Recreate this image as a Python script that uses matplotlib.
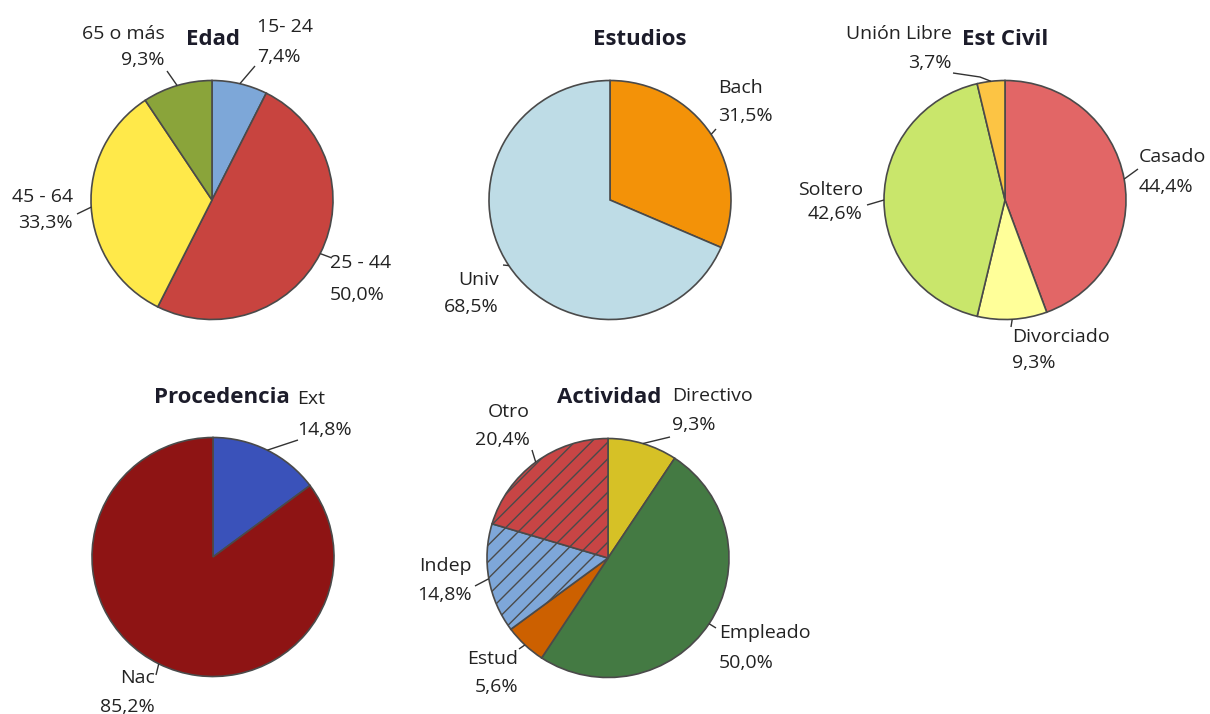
import matplotlib
matplotlib.use("Agg")
import matplotlib.pyplot as plt
import numpy as np

# ---- data -------------------------------------------------------------
edad_labels = ["15- 24", "25 - 44", "45 - 64", "65 o más"]
edad_pct = [7.4, 50.0, 33.3, 9.3]
edad_colors = ["#7DA7D8", "#C8443F", "#FFE94A", "#8AA43A"]

estudios_labels = ["Bach", "Univ"]
estudios_pct = [31.5, 68.5]
estudios_colors = ["#F39208", "#BEDCE6"]

civil_labels = ["Casado", "Divorciado", "Soltero", "Unión Libre"]
civil_pct = [44.4, 9.3, 42.6, 3.7]
civil_colors = ["#E26666", "#FFFF99", "#C9E66B", "#FCC444"]

proc_labels = ["Ext", "Nac"]
proc_pct = [14.8, 85.2]
proc_colors = ["#3A52BA", "#8E1414"]

activ_labels = ["Directivo", "Empleado", "Estud", "Indep", "Otro"]
activ_pct = [9.3, 50.0, 5.6, 14.8, 20.4]
activ_colors = ["#D6C126", "#447A43", "#CC6000", "#7EA7D9", "#C84545"]
activ_hatches = [None, None, None, "//", "//"]

# ---- canvas -----------------------------------------------------------
W, H, DPI = 1210, 714, 100
KY = 1.0125          # slight vertical squash of the circles
R = 121
EDGE = "#4A4A4A"
TXT = "#222222"
TITLE = "#1C1C2A"

plt.rcParams["font.family"] = ["Open Sans", "DejaVu Sans"]
plt.rcParams["hatch.linewidth"] = 1.0

fig = plt.figure(figsize=(W / DPI, H / DPI), dpi=DPI)
ax = fig.add_axes([0, 0, 1, 1])


def P(x, y):
    """pixel position (origin top-left) -> data coordinates"""
    return x, (H - y) * KY


def fmt(v):
    return f"{v:.1f}%".replace(".", ",")


def draw_chart(title, title_pos, center, labels, values, colors, placements,
               hatches=None):
    cx, cy = P(*center)
    wedges, _ = ax.pie(values, colors=colors, startangle=90,
                       counterclock=False, radius=R, center=(cx, cy),
                       wedgeprops=dict(edgecolor=EDGE, linewidth=1.2))
    if hatches:
        for w, h in zip(wedges, hatches):
            if h:
                w.set_hatch(h)
    ax.text(*P(*title_pos), title, ha="center", va="baseline",
            fontsize=16, fontweight="bold", color=TITLE)
    for w, lab, val, (ha, x, y1, y2, path) in zip(wedges, labels, values,
                                                    placements):
        mid = np.deg2rad((w.theta1 + w.theta2) / 2)
        ax_pt = (cx + R * np.cos(mid), cy + R * np.sin(mid))
        pts = [ax_pt] + [P(*p) for p in path]
        ax.plot([p[0] for p in pts], [p[1] for p in pts], color="#333333",
                lw=1.0, solid_capstyle="butt")
        ax.text(*P(x, y1), lab, ha=ha, va="baseline", fontsize=14, color=TXT)
        ax.text(*P(x, y2), fmt(val), ha=ha, va="baseline", fontsize=14,
                color=TXT)


draw_chart("Edad", (213, 45), (212, 200), edad_labels, edad_pct, edad_colors,
           [("left", 257, 32, 62, [(255, 66)]),
            ("left", 330, 268, 300, [(332, 258)]),
            ("right", 73, 202, 228, [(77, 214)]),
            ("right", 165, 39, 65, [(167, 71)])])

draw_chart("Estudios", (640, 45), (610, 200), estudios_labels, estudios_pct,
           estudios_colors,
           [("left", 718, 93, 121, [(716, 129)]),
            ("right", 499, 285, 312, [(503, 265)])])

draw_chart("Est Civil", (1005, 45), (1005, 200), civil_labels, civil_pct,
           civil_colors,
           [("left", 1139, 162, 192, [(1138, 169)]),
            ("left", 1012, 342, 368, [(1011, 327)]),
            ("right", 863, 195, 219, [(867, 205)]),
            ("right", 952, 39, 68, [(980, 77), (953, 73)])])

draw_chart("Procedencia", (222, 403), (213, 557), proc_labels, proc_pct,
           proc_colors,
           [("left", 297, 404, 435, [(298, 440)]),
            ("right", 155, 683, 712, [(156, 675)])])

draw_chart("Actividad", (609, 403), (608, 558), activ_labels, activ_pct,
           activ_colors,
           [("left", 672, 401, 430, [(670, 437)]),
            ("left", 719, 638, 668, [(716, 628)]),
            ("right", 518, 664, 692, [(519, 649)]),
            ("right", 472, 571, 600, [(475, 586)]),
            ("right", 530, 417, 445, [(532, 450)])],
           hatches=activ_hatches)

ax.set_aspect("auto")
ax.set_xlim(0, W)
ax.set_ylim(0, H * KY)
ax.set_position([0, 0, 1, 1])
ax.axis("off")

fig.savefig("out.png", dpi=DPI, facecolor="white")
